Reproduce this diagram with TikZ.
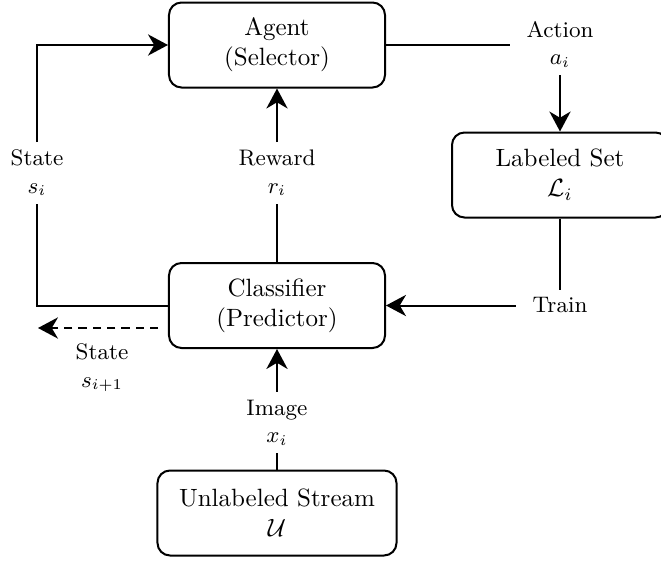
\documentclass[tikz,border=0pt]{standalone}
\usetikzlibrary{arrows.meta}
\begin{document}
\begin{tikzpicture}[x=0.4pt,y=-0.4pt,
  box/.style={draw, line width=0.8pt, rounded corners=5pt, align=center,
    minimum width=86.4pt, minimum height=34pt, inner sep=0pt},
  lbl/.style={align=center, font=\small, inner xsep=6.5pt, inner ysep=3pt},
  conn/.style={line width=0.8pt},
  arr/.style={conn, -{Stealth[length=8pt,width=8.5pt,inset=2.5pt]}},
  dash line/.style={dash pattern=on 3.3pt off 2.4pt}]
\useasboundingbox (0,0) rectangle (661,561);

% main blocks
\node[box] (agent) at (277,45) {Agent\\(Selector)};
\node[box] (labeled) at (560,175) {Labeled Set\\$\mathcal{L}_i$};
\node[box] (clf) at (277,305.5) {Classifier\\(Predictor)};
\node[box, minimum width=95.6pt] (stream) at (277,513) {Unlabeled Stream\\$\mathcal{U}$};

% edge labels
\node[lbl] (act) at (560,44) {Action\\$a_i$};
\node[lbl] (train) at (560,305.5) {Train};
\node[lbl] (rew) at (277,173) {Reward\\$r_i$};
\node[lbl] (st) at (37,173) {State\\$s_i$};
\node[lbl] (img) at (277,422.5) {Image\\$x_i$};
\node[lbl] (stn) at (102,368) {State\\$s_{i+1}$};

% connectors
\draw[conn] (agent.east) -- (agent.east -| act.west);
\draw[arr] (act.south) -- (labeled.north);
\draw[conn] (labeled.south) -- (train.north);
\draw[arr] (train.west) -- (train.west -| clf.east);
\draw[conn] (clf.north) -- (rew.south);
\draw[arr] (rew.north) -- (agent.south);
\draw[arr] (st.north) |- (agent.west);
\draw[conn] (clf.west) -| (st.south);
\draw[conn] (stream.north) -- (img.south);
\draw[arr] (img.north) -- (clf.south);

% next state leaving the classifier
\coordinate (nsFrom) at (158,328);
\coordinate (nsTo) at (38,328);
\draw[arr, dash line] (nsFrom) -- (nsTo);
\end{tikzpicture}
\end{document}
